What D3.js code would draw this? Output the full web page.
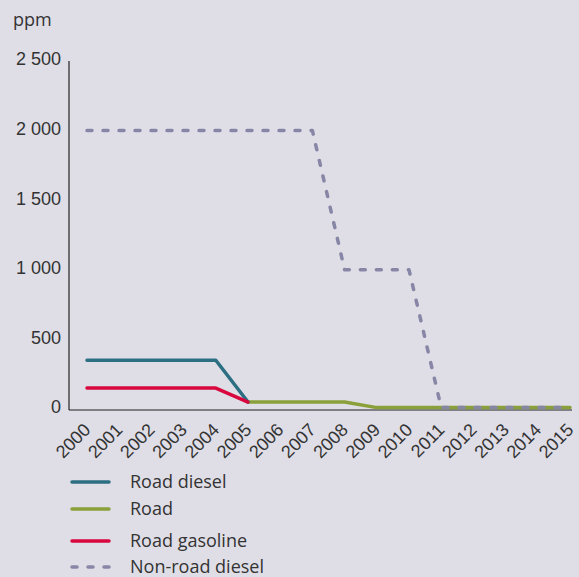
<html>
<head>
    <style type="text/css">
        body{
            margin: 0;
            background-color: #dfdee6;
        }
        svg{
            background-color: #dfdee6;
            font-family: 'Open Sans', sans-serif;
        }
        .axis path{
            stroke: #222;
            stroke-width: 1.2px;
        }
        .axis text{
            fill: #333;
            font-size: 18px;
        }
        .series{
            fill: none;
            stroke-width: 3.5px;
            stroke-linejoin: round;
            stroke-linecap: round;
        }
        .legend text{
            fill: #333;
            font-size: 18px;
        }
    </style>
    <script type="text/javascript" src="https://cdn.jsdelivr.net/npm/d3@7"></script>
</head>
<body>
    <div id="chart"></div>

    <script type="text/javascript">
        var width = 579, height = 577;

        var years = [2000,2001,2002,2003,2004,2005,2006,2007,2008,2009,2010,2011,2012,2013,2014,2015];
        var yTicks = [0, 500, 1000, 1500, 2000, 2500];

        // ppm per year, null where the series is not shown
        var roadDiesel   = [350,350,350,350,350,50,null,null,null,null,null,null,null,null,null,null];
        var road         = [null,null,null,null,null,50,50,50,50,10,10,10,10,10,10,10];
        var roadGasoline = [150,150,150,150,150,50,null,null,null,null,null,null,null,null,null,null];
        var nonRoad      = [2000,2000,2000,2000,2000,2000,2000,2000,1000,1000,1000,10,10,10,10,10];

        var seriesNames  = ['Road diesel', 'Road', 'Road gasoline', 'Non-road diesel'];
        var seriesValues = [roadDiesel, road, roadGasoline, nonRoad];
        var seriesColors = ['#2c6f82', '#8aa03a', '#d8083f', '#8786a6'];
        var seriesDash   = [null, null, null, '5,11'];
        var drawOrder    = [1, 0, 2, 3];
        var legendY      = [482, 509, 541, 567];

        var svg = d3.select('#chart')
            .append('svg')
            .attr('width', width)
            .attr('height', height);

        var xScale = d3.scalePoint()
            .domain(years)
            .range([87, 570]);

        var yScale = d3.scaleLinear()
            .domain([0, 2500])
            .range([409, 61]);

        var fmt = d3.formatLocale({decimal: ',', thousands: ' ', grouping: [3], currency: ['', '']}).format(',d');

        // y axis
        var yAxisG = svg.append('g')
            .attr('class', 'axis')
            .attr('transform', 'translate(69,0)')
            .call(d3.axisLeft(yScale).tickValues(yTicks).tickSize(0).tickPadding(8).tickFormat(fmt));
        yAxisG.select('.domain').attr('d', 'M0,' + yScale(2500) + 'V' + (yScale(0) + 1));
        yAxisG.selectAll('text').attr('dy', '0.22em');

        // x axis
        var xAxisG = svg.append('g')
            .attr('class', 'axis')
            .attr('transform', 'translate(0,410)')
            .call(d3.axisBottom(xScale).tickSize(0));
        xAxisG.select('.domain').attr('d', 'M69,0H' + (xScale(2015) + 2));
        xAxisG.selectAll('text')
            .attr('y', 0)
            .attr('dy', null)
            .attr('text-anchor', 'end')
            .attr('transform', 'translate(4,21) rotate(-45)');

        svg.append('text')
            .attr('x', 13)
            .attr('y', 26)
            .attr('fill', '#333')
            .style('font-size', '18px')
            .text('ppm');

        var line = d3.line()
            .defined(function(d){ return d !== null; })
            .x(function(d, i){ return xScale(years[i]); })
            .y(function(d){ return yScale(d); });

        drawOrder.forEach(function(k){
            svg.append('path')
                .attr('class', 'series')
                .attr('d', line(seriesValues[k]))
                .attr('stroke', seriesColors[k])
                .attr('stroke-dasharray', seriesDash[k]);
        });

        // legend
        var legend = svg.append('g').attr('class', 'legend');
        seriesNames.forEach(function(name, k){
            legend.append('line')
                .attr('class', 'series')
                .attr('x1', 72).attr('x2', 109)
                .attr('y1', legendY[k]).attr('y2', legendY[k])
                .attr('stroke', seriesColors[k])
                .attr('stroke-dasharray', seriesDash[k]);
            legend.append('text')
                .attr('x', 130)
                .attr('y', legendY[k])
                .attr('dy', '0.35em')
                .text(name);
        });
    </script>
</body>
</html>
